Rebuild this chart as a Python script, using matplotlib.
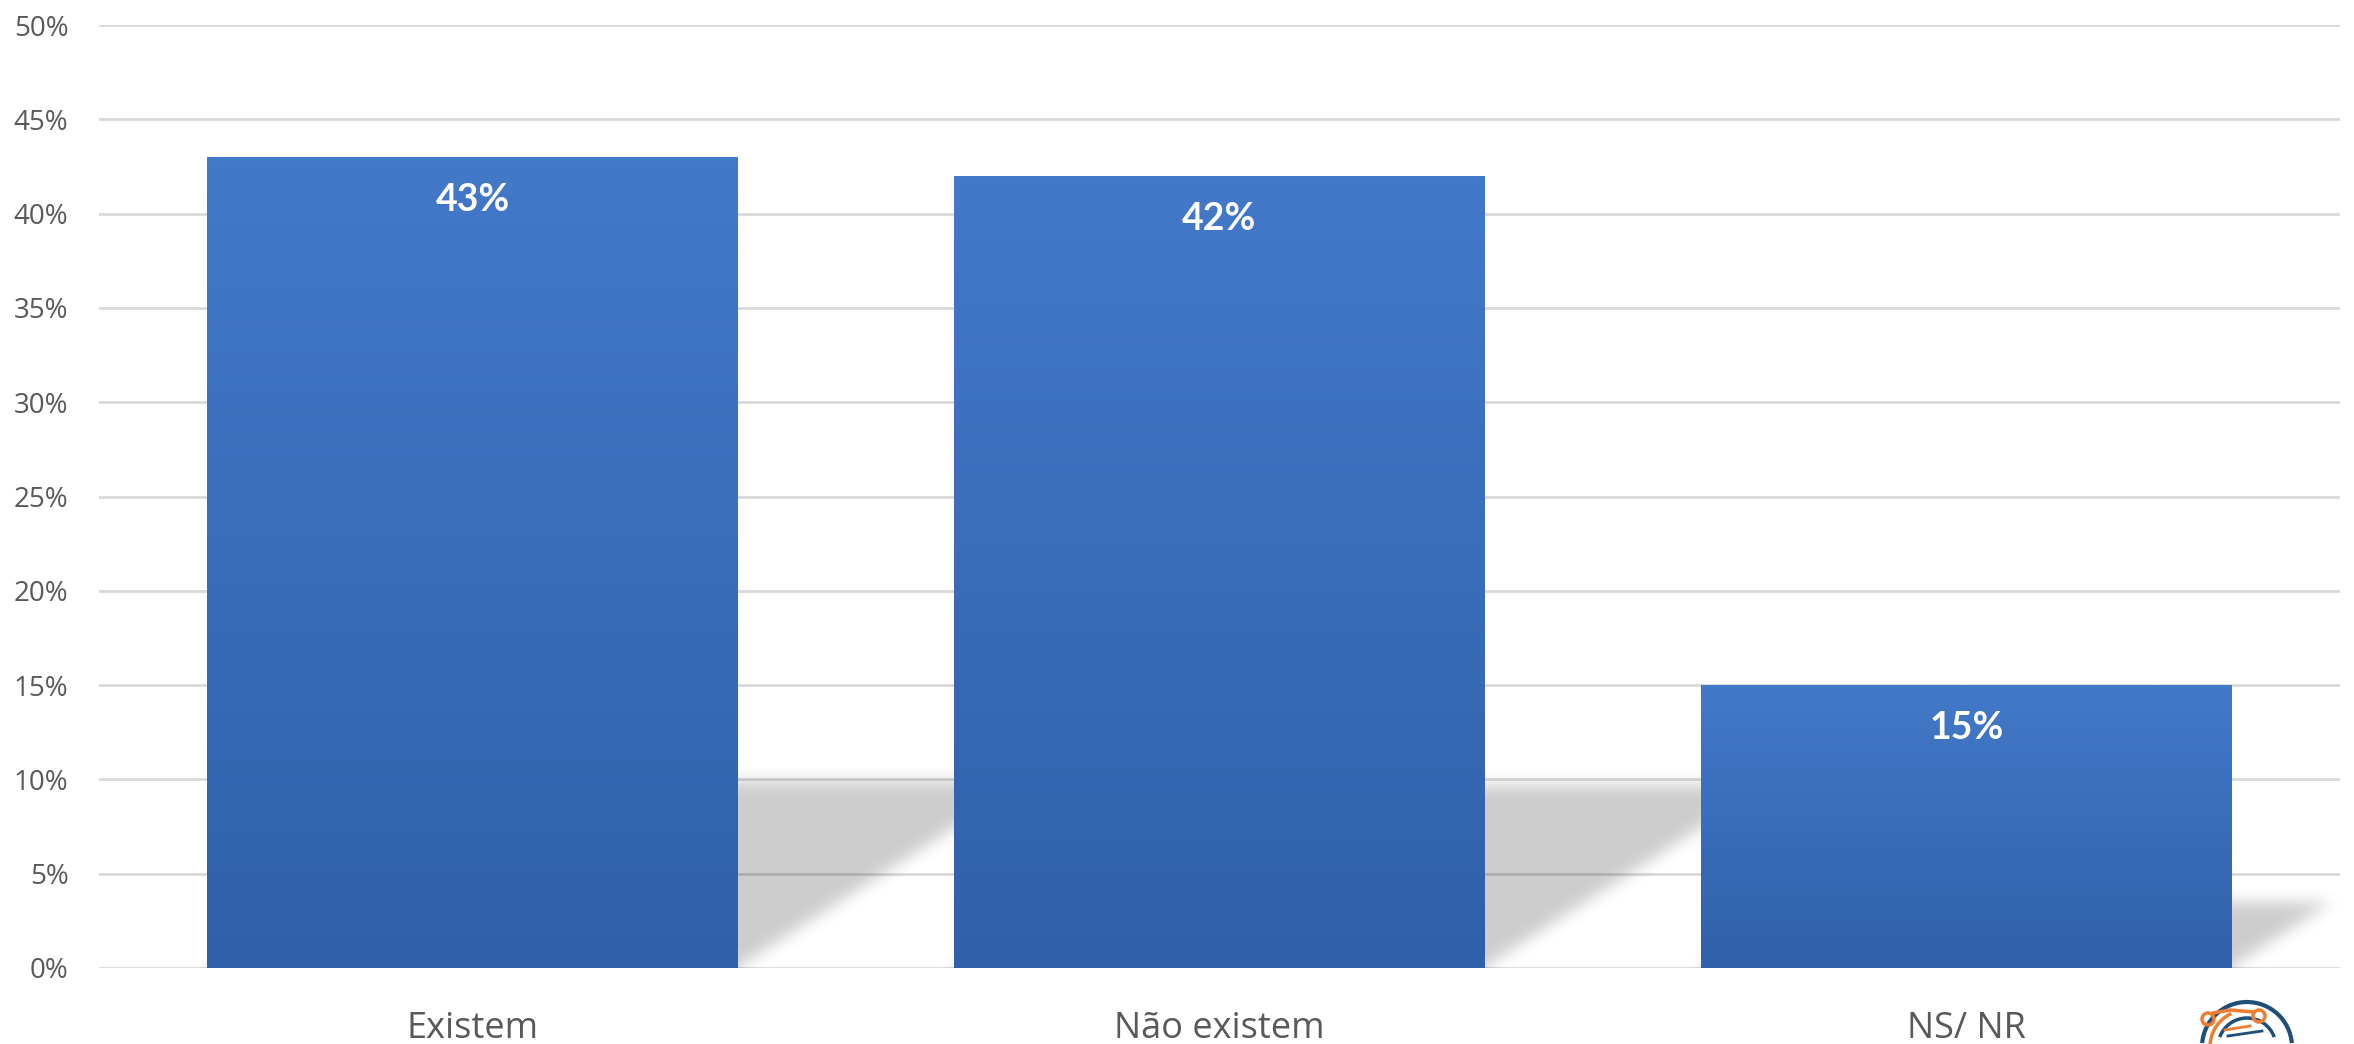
import numpy as np
import matplotlib
matplotlib.use('Agg')
import matplotlib.pyplot as plt
from matplotlib.colors import LinearSegmentedColormap
from matplotlib.patches import Circle, Arc

# data
categories = ['Existem', 'Não existem', 'NS/ NR']
values = [43, 42, 15]
yticks = [0, 5, 10, 15, 20, 25, 30, 35, 40, 45, 50]

# style
bar_top = '#4379C9'
bar_bottom = '#3060A9'
grid_color = '#D9D9D9'
text_color = '#595959'
bar_width = 0.71
shadow_ratio = 0.23   # shadow height relative to bar height
shadow_skew = 1.55    # horizontal px per vertical px of shadow

fig = plt.figure(figsize=(23.54, 10.44), dpi=100)
ax = fig.add_axes([99 / 2354, 1 - 968 / 1044, (2340 - 99) / 2354, (968 - 25) / 1044])

x = np.arange(len(categories))
bars = ax.bar(x, values, width=bar_width, color=bar_top, zorder=3)

ax.set_xlim(-0.5, 2.5)
ax.set_ylim(0, 50)

# gradient fill, clipped to each bar
cmap = LinearSegmentedColormap.from_list('bar', [bar_bottom, bar_top])
grad = np.linspace(0, 1, 256).reshape(-1, 1)
for b in bars:
    x0, w, h = b.get_x(), b.get_width(), b.get_height()
    im = ax.imshow(grad, cmap=cmap, extent=(x0, x0 + w, 0, h), origin='lower',
                   aspect='auto', zorder=3.5, interpolation='bilinear')
    im.set_clip_path(b)

# soft perspective shadow behind the bars
nx, ny = 1200, 500
xs = np.linspace(-0.5, 2.5, nx)
ys = np.linspace(0, 50, ny)
X, Y = np.meshgrid(xs, ys)
bbox = ax.get_position()
px_per_x = bbox.width * 2354 / 3
px_per_y = bbox.height * 1044 / 50
mask = np.zeros_like(X)
for i, v in enumerate(values):
    hs = shadow_ratio * v
    dx = shadow_skew * hs * px_per_y / px_per_x
    t = Y / hs
    inside = (Y <= hs) & (X >= i - bar_width / 2 + dx * t) & (X <= i + bar_width / 2 + dx * t)
    mask = np.maximum(mask, inside.astype(float))

sig = 4.0
k = np.exp(-0.5 * (np.arange(-15, 16) / sig) ** 2)
k /= k.sum()
pad = 15
m = np.pad(mask, pad, mode='edge')
m = np.apply_along_axis(lambda r: np.convolve(r, k, mode='same'), 1, m)
m = np.apply_along_axis(lambda c: np.convolve(c, k, mode='same'), 0, m)
mask = m[pad:-pad, pad:-pad]

rgba = np.zeros((ny, nx, 4))
rgba[..., 3] = 0.2 * mask
ax.imshow(rgba, extent=(-0.5, 2.5, 0, 50), origin='lower', aspect='auto',
          zorder=2, interpolation='bilinear')

# value labels
for i, v in enumerate(values):
    ax.annotate(f'{v}%', xy=(i, v), xytext=(0, -43 * 0.72), textcoords='offset points',
                ha='center', va='center', color='white', fontsize=27,
                fontweight='bold', family='Lato', zorder=5)

# axes styling
ax.set_yticks(yticks)
ax.set_yticklabels([f'{t}%' for t in yticks], family='Open Sans', fontsize=20, color=text_color)
ax.set_xticks(x)
ax.set_xticklabels(categories, family='Open Sans', fontsize=26, color=text_color)
ax.tick_params(axis='y', length=0, pad=22)
ax.tick_params(axis='x', length=0, pad=31)
for s in ax.spines.values():
    s.set_visible(False)
ax.set_axisbelow(True)
ax.yaxis.grid(True, color=grid_color, linewidth=2, zorder=1)
ax.xaxis.grid(False)

# small logo in the bottom right corner (mostly cropped)
lg = fig.add_axes([0, 0, 1, 1], zorder=10)
lg.set_xlim(0, 2354)
lg.set_ylim(1044, 0)
lg.axis('off')
cx, cy = 2247, 1047
lg.add_patch(Arc((cx, cy), 90, 90, theta1=185, theta2=355, color='#1F4E79', lw=3))
lg.add_patch(Arc((cx, cy), 58, 58, theta1=200, theta2=340, color='#1F4E79', lw=2.5))
lg.add_patch(Arc((cx, cy), 74, 74, theta1=180, theta2=245, color='#ED7D31', lw=2.5))
lg.add_patch(Circle((2208, 1019), 6, fill=False, ec='#ED7D31', lw=2.5))
lg.add_patch(Circle((2259, 1016), 6, fill=False, ec='#ED7D31', lw=2.5))
lg.plot([2213, 2230, 2254], [1013, 1010, 1012], color='#ED7D31', lw=2.5)
lg.plot([2225, 2250], [1030, 1026], color='#ED7D31', lw=2)
lg.plot([2228, 2262], [1036, 1031], color='#1F4E79', lw=2)

fig.savefig('out.png', dpi=100, facecolor='white')
